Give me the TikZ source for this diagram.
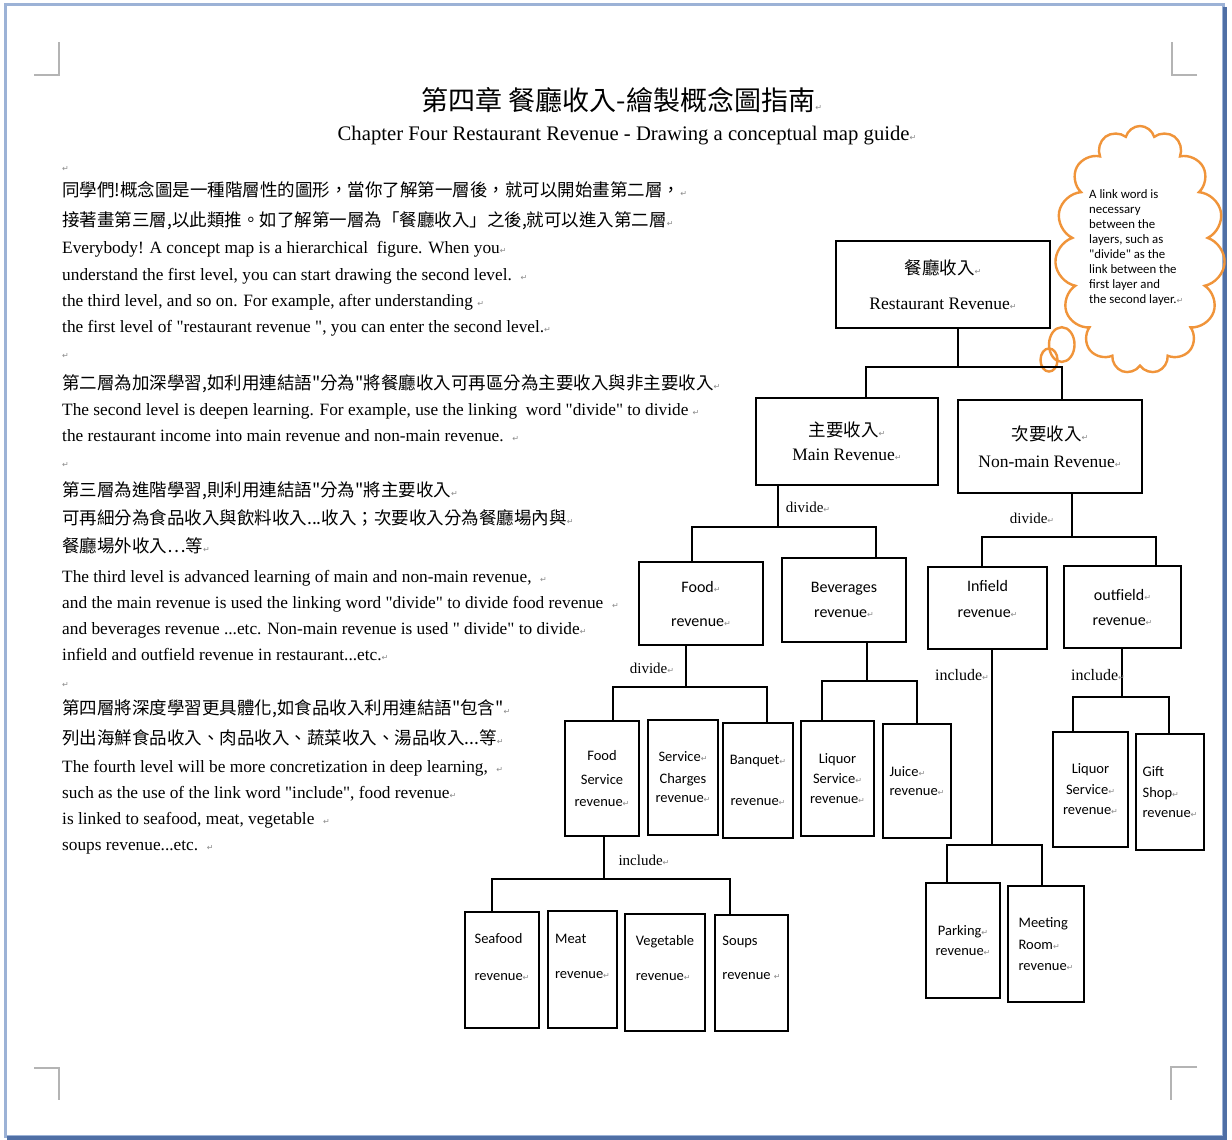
\documentclass[tikz,border=0pt]{standalone}
\usepackage{fontspec}
\newfontfamily\tnr{Liberation Serif}
\newfontfamily\cjkf{Noto Sans CJK TC}
\newfontfamily\calf{Carlito}
\newfontfamily\symf{DejaVu Sans}
\usetikzlibrary{shapes.symbols,shapes.callouts,calc}
\definecolor{cloudor}{HTML}{F0943A}
\definecolor{retgray}{HTML}{8A8A8A}
\definecolor{framelt}{HTML}{9CB2D6}
\definecolor{framedk}{HTML}{4F6FA5}
\definecolor{markgray}{HTML}{B4B4B4}
\newcommand{\parmk}{{\symf\fontsize{8}{8}\selectfont\textcolor{retgray}{↵}}}
\begin{document}
\begin{tikzpicture}[x=1pt,y=-1pt,
  box/.style={draw, line width=2.6pt, rectangle, inner sep=0pt, align=center, font=\tnr\fontsize{17.5}{20}\selectfont},
  conn/.style={line width=2.6pt},
  eng/.style={anchor=base west, inner sep=0pt, font=\tnr\fontsize{17.3}{20}\selectfont},
  chi/.style={anchor=base west, inner sep=0pt, font=\cjkf\fontsize{17.5}{20}\selectfont},
  linkw/.style={inner sep=0pt, font=\tnr\fontsize{15}{18}\selectfont},
  sbox/.style={box, font=\calf\fontsize{14.5}{20}\selectfont},
  mbox/.style={box, font=\calf\fontsize{16}{20}\selectfont},
  cornermk/.style={markgray, line width=1.5pt}
]
\useasboundingbox (0,0) rectangle (1232,1140);
\fill[white] (0,0) rectangle (1232,1140);
% page frame
\draw[framelt, line width=3pt] (5,5) rectangle (1223,1136);
\draw[framedk, line width=4pt] (1225,7) -- (1225,1138) -- (7,1138);
% corner marks
\draw[cornermk] (34,75) -- (59,75) -- (59,42);
\draw[cornermk] (1197,75) -- (1172,75) -- (1172,42);
\draw[cornermk] (34,1068) -- (59,1068) -- (59,1100);
\draw[cornermk] (1197,1067) -- (1171,1067) -- (1171,1100);

% title
\node[inner sep=0pt, font=\cjkf\fontsize{27}{30}\selectfont] (title) at (622,100) {第四章 餐廳收入-繪製概念圖指南\parmk};
\node[inner sep=0pt, font=\tnr\fontsize{20.7}{24}\selectfont] (subtitle) at (627,136) {Chapter Four Restaurant Revenue - Drawing a conceptual map guide\parmk};

% body text
\node[eng] (p0) at (62,171) {\parmk};
\node[chi] (c1) at (62,196) {同學們!概念圖是一種階層性的圖形，當你了解第一層後，就可以開始畫第二層，\parmk};
\node[chi] (c2) at (62,226) {接著畫第三層,以此類推。如了解第一層為「餐廳收入」之後,就可以進入第二層\parmk};
\node[eng] (e1) at (62,253) {Everybody! A concept map is a hierarchical\ \ figure. When you\parmk};
\node[eng] (e2) at (62,280) {understand the first level, you can start drawing the second level.\ \ \parmk};
\node[eng] (e3) at (62,306) {the third level, and so on. For example, after understanding \parmk};
\node[eng] (e4) at (62,332) {the first level of "restaurant revenue ", you can enter the second level.\parmk};
\node[eng] (p1) at (62,358) {\parmk};
\node[chi] (c3) at (62,389) {第二層為加深學習,如利用連結語"分為"將餐廳收入可再區分為主要收入與非主要收入\parmk};
\node[eng] (e5) at (62,415) {The second level is deepen learning. For example, use the linking\ \ word "divide" to divide \parmk};
\node[eng] (e6) at (62,441) {the restaurant income into main revenue and non-main revenue.\ \ \parmk};
\node[eng] (p2) at (62,467) {\parmk};
\node[chi] (c4) at (62,496) {第三層為進階學習,則利用連結語"分為"將主要收入\parmk};
\node[chi] (c5) at (62,524) {可再細分為食品收入與飲料收入...收入；次要收入分為餐廳場內與\parmk};
\node[chi] (c6) at (62,552) {餐廳場外收入…等\parmk};
\node[eng] (e7) at (62,582) {The third level is advanced learning of main and non-main revenue,\ \ \parmk};
\node[eng] (e8) at (62,608) {and the main revenue is used the linking word "divide" to divide food revenue\ \ \parmk};
\node[eng] (e9) at (62,634) {and beverages revenue ...etc. Non-main revenue is used " divide" to divide\parmk};
\node[eng] (e10) at (62,660) {infield and outfield revenue in restaurant...etc.\parmk};
\node[eng] (p3) at (62,687) {\parmk};
\node[chi] (c7) at (62,714) {第四層將深度學習更具體化,如食品收入利用連結語"包含"\parmk};
\node[chi] (c8) at (62,744) {列出海鮮食品收入、肉品收入、蔬菜收入、湯品收入...等\parmk};
\node[eng] (e11) at (62,772) {The fourth level will be more concretization in deep learning,\ \ \parmk};
\node[eng] (e12) at (62,798) {such as the use of the link word "include", food revenue\parmk};
\node[eng] (e13) at (62,824) {is linked to seafood, meat, vegetable\ \ \parmk};
\node[eng] (e14) at (62,850) {soups revenue...etc.\ \ \parmk};

% cloud
\node[cloud callout, draw=cloudor, line width=2.4pt, cloud puffs=15, aspect=0.7,
  minimum width=170, minimum height=248, callout absolute pointer={(1049,360)},
  inner sep=0pt] (cloud) at (1140,250) {};
\node[anchor=west, font=\calf\fontsize{12.8}{15}\selectfont, align=left, inner sep=0pt] (cloudtext) at (1089,248)
  {A link word is\\necessary\\between the\\layers, such as\\"divide" as the\\link between the\\first layer and\\the second layer.\parmk};

% level 1 and 2
\node[box, fill=white, minimum width=214, minimum height=87] (root) at (943,284.5)
  {{\cjkf 餐廳收入\parmk}\\[15pt]Restaurant Revenue\parmk};
\node[box, minimum width=182, minimum height=87] (main) at (847,441.5)
  {{\cjkf 主要收入\parmk}\\[4pt]Main Revenue\parmk};
\node[box, minimum width=184, minimum height=93] (nonmain) at (1050,446.5)
  {{\cjkf 次要收入\parmk}\\[7pt]Non-main Revenue\parmk};

% level 3
\node[mbox, minimum width=124, minimum height=83] (food) at (701,603.5) {Food\parmk\\[14pt]revenue\parmk};
\node[mbox, minimum width=124, minimum height=84] (bev) at (844,600) {Beverages\\[5pt]revenue\parmk};
\node[mbox, minimum width=119, minimum height=82, text depth=18pt] (infield) at (987.5,608) {Infield\\[6pt]revenue\parmk};
\node[mbox, minimum width=117, minimum height=82] (outfield) at (1122.5,607) {outfield\parmk\\[5pt]revenue\parmk};

% level 4
\node[sbox, minimum width=74, minimum height=115] (fserv) at (602,778.5) {Food\\[4pt]Service\\[2pt]revenue\parmk};
\node[sbox, minimum width=70, minimum height=115] (scharge) at (683,777.5) {Service\parmk\\[2pt]Charges\\[-1pt]revenue\parmk};
\node[sbox, minimum width=70, minimum height=115] (banquet) at (758,780.5) {Banquet\parmk\\[21pt]revenue\parmk};
\node[sbox, minimum width=73, minimum height=115] (liquor) at (837.5,778.5) {Liquor\\Service\parmk\\revenue\parmk};
\node[sbox, minimum width=68, minimum height=114, align=left] (juice) at (917,781) {Juice\parmk\\[-1pt]revenue\parmk};
\node[sbox, minimum width=75, minimum height=115] (liqout) at (1090.5,789.5) {Liquor\\[1pt]Service\parmk\\revenue\parmk};
\node[sbox, minimum width=68, minimum height=116, align=left] (gift) at (1170,792) {Gift\\[1pt]Shop\parmk\\revenue\parmk};
\node[sbox, minimum width=74, minimum height=115] (parking) at (963,940.5) {Parking\parmk\\revenue\parmk};
\node[sbox, minimum width=76, minimum height=116, align=left] (meeting) at (1046,944) {Meeting\\[2pt]Room\parmk\\[1pt]revenue\parmk};

% level 5
\node[sbox, minimum width=74, minimum height=116, align=left, text depth=27pt] (seafood) at (502,970) {Seafood\\[17pt]revenue\parmk};
\node[sbox, minimum width=69, minimum height=117, align=left, text depth=27pt] (meat) at (582.5,969.5) {Meat\\[15pt]revenue\parmk};
\node[sbox, minimum width=80, minimum height=117, align=left, text depth=30pt] (veg) at (665,972.5) {Vegetable\\[15pt]revenue\parmk};
\node[sbox, minimum width=73, minimum height=116, align=left, text depth=31pt] (soups) at (751.5,973) {Soups\\[14pt]revenue \parmk};

% connectors
\coordinate (d1) at (958,367); \coordinate (r1a) at (866,367); \coordinate (r1b) at (1062,367);
\draw[conn] (root.south -| d1) -- (d1);
\draw[conn] (main.north -| r1a) -- (r1a) -- (r1b) -- (nonmain.north -| r1b);

\coordinate (d2) at (778,527); \coordinate (r2a) at (692,527); \coordinate (r2b) at (876,527);
\draw[conn] (main.south -| d2) -- (d2);
\draw[conn] (food.north -| r2a) -- (r2a) -- (r2b) -- (bev.north -| r2b);
\node[linkw] (lk1) at (808,507) {divide\parmk};

\coordinate (d3) at (1072,537); \coordinate (r3a) at (982,537); \coordinate (r3b) at (1156,537);
\draw[conn] (nonmain.south -| d3) -- (d3);
\draw[conn] (infield.north -| r3a) -- (r3a) -- (r3b) -- (outfield.north -| r3b);
\node[linkw] (lk2) at (1032,518) {divide\parmk};

\coordinate (d4) at (686,687); \coordinate (r4a) at (613,687); \coordinate (r4b) at (767,687);
\draw[conn] (food.south -| d4) -- (d4);
\draw[conn] (fserv.north -| r4a) -- (r4a) -- (r4b) -- (banquet.north -| r4b);
\node[linkw] (lk3) at (652,668) {divide\parmk};

\coordinate (d5) at (867,681); \coordinate (r5a) at (822,681); \coordinate (r5b) at (917,681);
\draw[conn] (bev.south -| d5) -- (d5);
\draw[conn] (liquor.north -| r5a) -- (r5a) -- (r5b) -- (juice.north -| r5b);

\coordinate (d6) at (992,845); \coordinate (r6a) at (947,845); \coordinate (r6b) at (1042,845);
\draw[conn] (infield.south -| d6) -- (d6);
\draw[conn] (parking.north -| r6a) -- (r6a) -- (r6b) -- (meeting.north -| r6b);
\node[linkw, font=\tnr\fontsize{16}{18}\selectfont] (lk4) at (962,675) {include\parmk};

\coordinate (d7) at (1122,697); \coordinate (r7a) at (1073,697); \coordinate (r7b) at (1169,697);
\draw[conn] (outfield.south -| d7) -- (d7);
\draw[conn] (liqout.north -| r7a) -- (r7a) -- (r7b) -- (gift.north -| r7b);
\node[linkw, font=\tnr\fontsize{16}{18}\selectfont] (lk5) at (1098,675) {include\parmk};

\coordinate (d8) at (604,879); \coordinate (r8a) at (492,879); \coordinate (r8b) at (730,879);
\draw[conn] (fserv.south -| d8) -- (d8);
\draw[conn] (seafood.north -| r8a) -- (r8a) -- (r8b) -- (soups.north -| r8b);
\node[linkw] (lk6) at (644,860) {include\parmk};
\end{tikzpicture}
\end{document}
